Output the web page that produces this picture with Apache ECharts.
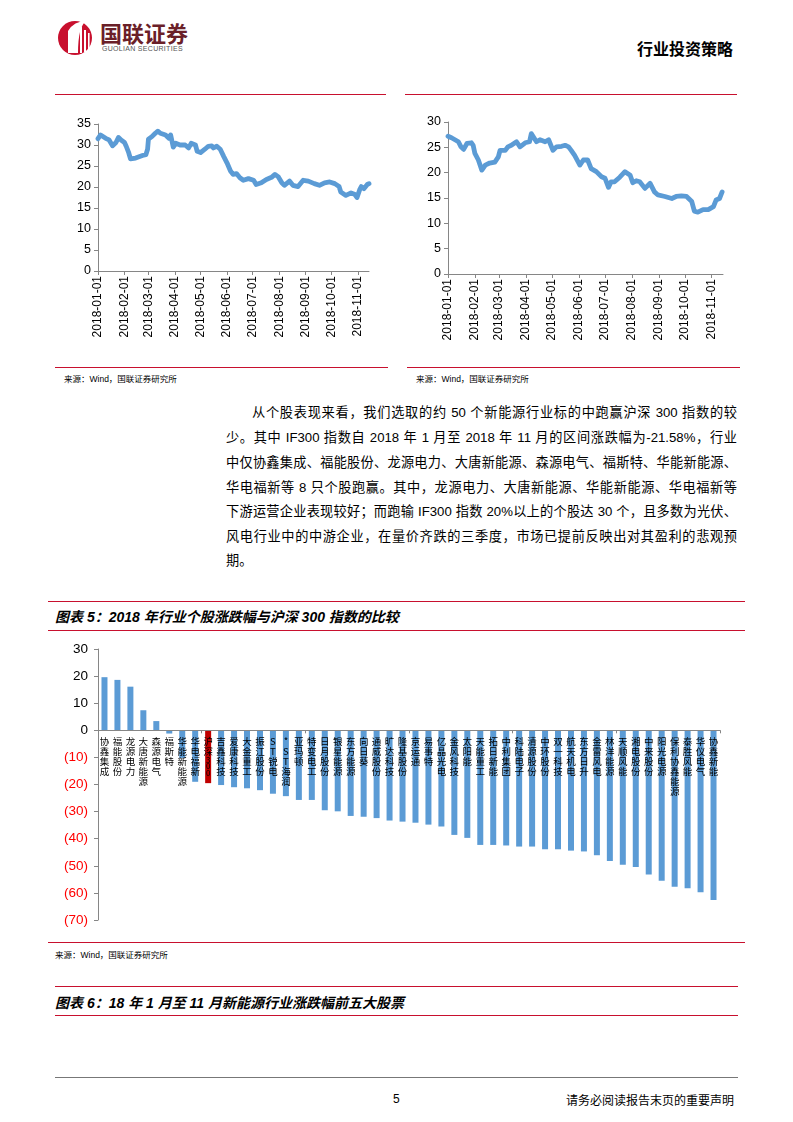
<!DOCTYPE html>
<html><head><meta charset="utf-8">
<script src="https://cdn.jsdelivr.net/npm/echarts@6/dist/echarts.min.js"></script>
<style>
body{margin:0;width:793px;height:1122px;position:relative;background:#fff;font-family:"Liberation Sans","Noto Sans CJK SC",sans-serif;overflow:hidden;color:#000}
.abs{position:absolute}
.rl{position:absolute;height:0;border-top:1.6px solid #c8102e}
.src{position:absolute;font-size:8.5px;color:#000;white-space:nowrap}
.p{position:absolute;left:226px;width:511px;font-size:13.2px;text-align:justify;text-align-last:justify;line-height:18px}
.cap{position:absolute;left:55px;font-size:14px;font-weight:bold;font-style:italic;white-space:nowrap}
</style></head><body>

<!-- header -->
<svg class="abs" style="left:56px;top:17px" width="40" height="40" viewBox="0 0 40 40">
  <circle cx="19" cy="21" r="17" fill="#c8102e"/>
  <path d="M12 36 L12 14 Q18 4 30 4 Q22 10 22 36 Z" fill="#fff"/>
  <rect x="24" y="10" width="2" height="26" fill="#fff"/>
  <rect x="28" y="13" width="2" height="22" fill="#fff"/>
  <rect x="32" y="16" width="1.6" height="17" fill="#fff"/>
</svg>
<div class="abs" style="left:100px;top:17px;font-size:22px;line-height:30px;font-weight:bold;color:#6a2028;font-family:'Noto Sans CJK SC'">国联证券</div>
<div class="abs" style="left:102px;top:45px;font-size:7px;line-height:8px;color:#555;letter-spacing:0.3px">GUOLIAN SECURITIES</div>
<div class="abs" style="left:637px;top:36px;font-size:16px;font-weight:bold;font-family:'Noto Sans CJK SC'">行业投资策略</div>

<!-- top charts -->
<div class="rl" style="left:55px;top:94px;width:331px"></div>
<div class="rl" style="left:405px;top:94px;width:332px"></div>
<div id="c1" class="abs" style="left:55px;top:100px;width:335px;height:265px"></div>
<div id="c2" class="abs" style="left:405px;top:100px;width:335px;height:265px"></div>
<div class="rl" style="left:55px;top:367px;width:333px"></div>
<div class="rl" style="left:407px;top:367px;width:333px"></div>
<div class="src" style="left:64px;top:372px">来源：Wind，国联证券研究所</div>
<div class="src" style="left:416px;top:372px">来源：Wind，国联证券研究所</div>

<!-- paragraph -->
<div class="p" style="top:404px;left:252px;width:485px">从个股表现来看，我们选取的约 50 个新能源行业标的中跑赢沪深 300 指数的较</div>
<div class="p" style="top:429px">少。其中 IF300 指数自 2018 年 1 月至 2018 年 11 月的区间涨跌幅为-21.58%，行业</div>
<div class="p" style="top:454px">中仅协鑫集成、福能股份、龙源电力、大唐新能源、森源电气、福斯特、华能新能源、</div>
<div class="p" style="top:479px">华电福新等 8 只个股跑赢。其中，龙源电力、大唐新能源、华能新能源、华电福新等</div>
<div class="p" style="top:503px">下游运营企业表现较好；而跑输 IF300 指数 20%以上的个股达 30 个，且多数为光伏、</div>
<div class="p" style="top:528px">风电行业中的中游企业，在量价齐跌的三季度，市场已提前反映出对其盈利的悲观预</div>
<div class="p" style="top:552px;text-align:left;text-align-last:left">期。</div>

<!-- figure 5 -->
<div class="rl" style="left:48px;top:601px;width:697px"></div>
<div class="cap" style="top:606px">图表 5：2018 年行业个股涨跌幅与沪深 300 指数的比较</div>
<div class="rl" style="left:48px;top:630px;width:697px"></div>
<div id="c3" class="abs" style="left:48px;top:632px;width:700px;height:305px"></div>
<div class="rl" style="left:48px;top:942px;width:697px"></div>
<div class="src" style="left:55px;top:948px">来源：Wind，国联证券研究所</div>

<!-- figure 6 -->
<div class="rl" style="left:55px;top:986px;width:683px"></div>
<div class="cap" style="top:992px">图表 6：18 年 1 月至 11 月新能源行业涨跌幅前五大股票</div>
<div class="rl" style="left:55px;top:1015px;width:683px"></div>

<!-- footer -->
<div class="abs" style="left:55px;top:1077px;width:683px;border-top:1px solid #777"></div>
<div class="abs" style="left:393px;top:1092px;font-size:12px">5</div>
<div class="abs" style="left:566px;top:1091px;font-size:12px;font-family:'Noto Sans CJK SC'">请务必阅读报告末页的重要声明</div>

<script>
// ---------- data ----------
const leftDates = ['2018-01-01','2018-01-04','2018-01-10','2018-01-14','2018-01-18','2018-01-22','2018-01-25','2018-01-28','2018-02-01','2018-02-03','2018-02-06','2018-02-08','2018-02-10','2018-02-14','2018-02-22','2018-02-26','2018-02-28','2018-03-01','2018-03-05','2018-03-09','2018-03-12','2018-03-15','2018-03-21','2018-03-25','2018-03-27','2018-03-30','2018-04-02','2018-04-07','2018-04-13','2018-04-17','2018-04-20','2018-04-25','2018-04-27','2018-05-01','2018-05-06','2018-05-10','2018-05-14','2018-05-16','2018-05-20','2018-05-24','2018-05-28','2018-06-01','2018-06-05','2018-06-08','2018-06-12','2018-06-16','2018-06-20','2018-06-26','2018-07-02','2018-07-05','2018-07-11','2018-07-17','2018-07-23','2018-07-27','2018-07-31','2018-08-04','2018-08-07','2018-08-13','2018-08-17','2018-08-23','2018-08-29','2018-09-04','2018-09-11','2018-09-17','2018-09-23','2018-09-29','2018-10-05','2018-10-10','2018-10-12','2018-10-18','2018-10-24','2018-10-28','2018-10-31','2018-11-03','2018-11-05','2018-11-08','2018-11-12','2018-11-14'];
const leftValues = [31.5,32.4,31.6,31.2,29.8,30.6,31.8,31.2,30.6,29.7,28.1,26.7,26.4,26.9,27.5,27.7,29.0,31.4,32.0,32.8,33.3,32.8,32.4,31.6,32.4,29.5,30.4,30.0,30.0,29.3,30.4,30.0,28.5,28.2,29.0,29.7,29.8,29.3,29.7,29.0,27.3,25.7,23.8,23.0,23.2,22.2,21.6,22.0,21.6,20.6,21.0,21.8,22.3,23.0,22.4,21.0,20.4,21.4,20.4,20.1,21.6,21.4,20.8,20.4,21.0,21.2,20.8,20.1,18.8,18.0,18.6,18.3,17.5,19.3,20.1,19.6,20.6,20.8];

const rightDates = ['2018-01-01','2018-01-05','2018-01-09','2018-01-13','2018-01-16','2018-01-19','2018-01-23','2018-01-28','2018-01-30','2018-02-01','2018-02-05','2018-02-09','2018-02-13','2018-02-18','2018-02-24','2018-02-28','2018-03-02','2018-03-04','2018-03-08','2018-03-11','2018-03-15','2018-03-21','2018-03-25','2018-03-31','2018-04-05','2018-04-07','2018-04-09','2018-04-13','2018-04-17','2018-04-23','2018-04-27','2018-05-02','2018-05-06','2018-05-12','2018-05-16','2018-05-20','2018-05-23','2018-05-27','2018-06-02','2018-06-06','2018-06-11','2018-06-15','2018-06-21','2018-06-27','2018-07-01','2018-07-05','2018-07-08','2018-07-12','2018-07-18','2018-07-24','2018-07-30','2018-08-02','2018-08-06','2018-08-10','2018-08-16','2018-08-22','2018-08-27','2018-08-31','2018-09-08','2018-09-16','2018-09-21','2018-09-27','2018-10-03','2018-10-09','2018-10-12','2018-10-16','2018-10-22','2018-10-28','2018-11-03','2018-11-06','2018-11-10','2018-11-13'];
const rightValues = [27.2,26.9,26.5,26.1,25.1,24.6,25.8,25.9,25.4,23.8,22.5,20.5,21.5,21.9,22.1,23.1,24.4,24.3,24.4,25.1,25.4,26.1,25.1,25.9,26.1,27.7,28.0,26.1,26.5,26.1,26.5,24.4,25.1,25.2,25.4,25.1,24.4,23.4,21.5,22.5,22.5,20.8,20.2,19.2,18.9,17.1,18.2,18.2,19.1,20.2,19.5,18.0,18.4,18.2,16.9,17.9,16.2,15.6,15.3,14.9,15.3,15.4,15.3,14.3,12.4,12.2,12.7,12.7,13.3,14.6,14.9,16.2];

const stockNames = ['协鑫集成','福能股份','龙源电力','大唐新能源','森源电气','福斯特','华能新能源','华电福新','沪深300','吉鑫科技','爱康科技','大金重工','振江股份','ST锐电','*ST海润','亚玛顿','特变电工','日月股份','银星能源','东方能源','向日葵','通威股份','旷达科技','隆基股份','京运通','易事特','亿晶光电','金风科技','太阳能','天能重工','拓日新能','中利集团','科陆电子','清源股份','中环股份','双一科技','航天机电','东方日升','金雷风电','林洋能源','天顺风能','湘电股份','中来股份','阳光电源','保利协鑫能源','泰胜风能','华仪电气','协鑫新能'];
const stockChange = [19.6,18.6,16.1,7.4,3.4,-1.2,-10.2,-19.0,-19.5,-20.2,-21.0,-21.4,-22.1,-23.4,-24.3,-25.7,-25.7,-29.5,-29.9,-31.6,-31.9,-32.4,-33.3,-33.7,-34.1,-34.8,-35.5,-38.6,-39.7,-42.3,-42.3,-42.5,-42.9,-42.9,-43.9,-43.9,-44.4,-44.7,-46.1,-48.2,-49.6,-50.4,-53.2,-55.5,-57.7,-58.3,-59.8,-62.6];
const benchmarkName = '沪深300';

// ---------- helpers ----------
function dayCategories(lastMonth, lastDay){
  const ml=[31,28,31,30,31,30,31,31,30,31,30,31], out=[];
  for(let m=1;m<=lastMonth;m++){
    const end = m===lastMonth ? lastDay : ml[m-1];
    for(let d=1; d<=end; d++) out.push('2018-'+String(m).padStart(2,'0')+'-'+String(d).padStart(2,'0'));
  }
  return out;
}
function alignToDays(days, dates, vals){
  const map={}; dates.forEach((d,i)=>{map[d]=vals[i];});
  return days.map(d => (d in map) ? map[d] : null);
}
const axisGray = '#868686';
function lineOption(days, series, yMax, grid){
  const isMonthStart = (i, v) => String(v).slice(-2)==='01';
  return {
    animation:false,
    grid: Object.assign({outerBoundsMode:'none', containLabel:false}, grid),
    xAxis:{type:'category', data:days, boundaryGap:false,
      axisLine:{lineStyle:{color:axisGray,width:1}},
      axisTick:{show:true, interval:isMonthStart, length:4, lineStyle:{color:axisGray}},
      axisLabel:{interval:isMonthStart, rotate:90, color:'#000', fontSize:12, fontFamily:'Liberation Sans', margin:5}},
    yAxis:{type:'value', min:0, max:yMax, interval:5,
      axisLine:{show:true, lineStyle:{color:axisGray}},
      axisTick:{show:true, length:4, lineStyle:{color:axisGray}},
      splitLine:{show:false},
      axisLabel:{color:'#000', fontSize:12.5, fontFamily:'Liberation Sans', margin:7}},
    series:[{type:'line', data:series, connectNulls:true, showSymbol:false, symbol:'none',
      lineStyle:{color:'#5B9BD5', width:4.8, join:'round', cap:'round'}}]
  };
}

const days = dayCategories(11, 14);
const c1 = echarts.init(document.getElementById('c1'));
c1.setOption(lineOption(days, alignToDays(days, leftDates, leftValues), 35,
  {left:43, top:24, width:271, height:147}));
const c2 = echarts.init(document.getElementById('c2'));
c2.setOption(lineOption(days, alignToDays(days, rightDates, rightValues), 30,
  {left:43, top:22, width:275, height:152}));

// ---------- bar chart ----------
const yMin = -70, yMax = 30;
const gTop = 17, gH = 271, gLeft = 50, gW = 622;
const zeroY = gTop + gH * (yMax / (yMax - yMin));
const c3 = echarts.init(document.getElementById('c3'));
c3.setOption({
  animation:false,
  grid:[
    {left:gLeft, top:gTop, width:gW, height:gH, outerBoundsMode:'none', containLabel:false},
    {left:gLeft, top:zeroY - 1, width:gW, height:1, outerBoundsMode:'none', containLabel:false}
  ],
  xAxis:[
    {type:'category', data:stockNames, gridIndex:0, z:3,
      axisLine:{onZero:true, lineStyle:{color:axisGray}},
      axisTick:{show:true, length:3, lineStyle:{color:axisGray}},
      axisLabel:{show:false}},
    {type:'category', data:stockNames, gridIndex:1, position:'bottom', z:4,
      axisLine:{show:false}, axisTick:{show:false},
      axisLabel:{interval:0, margin:6, color:'#000', fontSize:9.5, lineHeight:10, fontFamily:'Noto Sans CJK SC',
        formatter: v => v===benchmarkName ? '沪\n深\n{d|3}\n{d|0}\n{d|0}' : v.split('').join('\n'),
        rich:{d:{fontSize:8, lineHeight:6.5, color:'#000'}}}}
  ],
  yAxis:[
    {type:'value', min:yMin, max:yMax, interval:10, gridIndex:0,
      axisLine:{show:true, lineStyle:{color:axisGray}},
      axisTick:{show:true, length:4, lineStyle:{color:axisGray}},
      splitLine:{show:false},
      axisLabel:{fontSize:13.5, fontFamily:'Liberation Sans', margin:10,
        color: v => (v < 0 ? '#ff0000' : '#000'),
        formatter: v => v < 0 ? '(' + (-v) + ')' : String(v)}},
    {type:'value', gridIndex:1, show:false, min:0, max:1}
  ],
  series:[{type:'bar', barWidth:6, xAxisIndex:0, yAxisIndex:0,
    data: stockChange.map((v,i)=>({value:v, itemStyle:{color: stockNames[i]===benchmarkName ? '#C00000' : '#5B9BD5'}}))}]
});
</script>
</body></html>
